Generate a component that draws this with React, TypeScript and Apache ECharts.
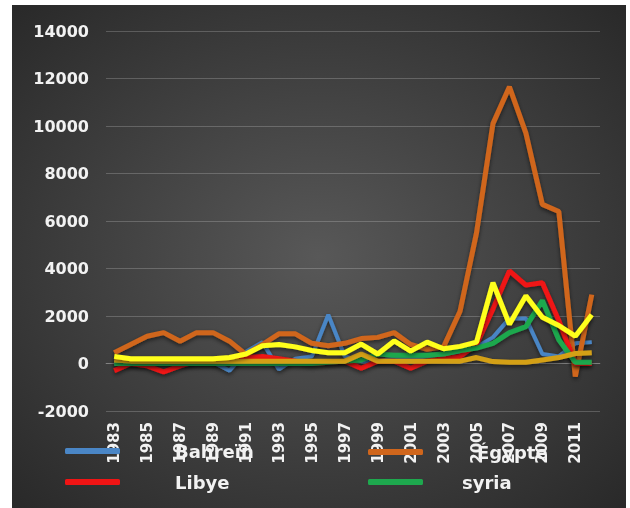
import { useEffect, useRef } from "react";
import * as echarts from "echarts";

// Années (axe des catégories)
const years = [
  "1983", "1984", "1985", "1986", "1987", "1988", "1989", "1990", "1991", "1992",
  "1993", "1994", "1995", "1996", "1997", "1998", "1999", "2000", "2001", "2002",
  "2003", "2004", "2005", "2006", "2007", "2008", "2009", "2010", "2011", "2012",
];

const yTicks = { min: -2000, max: 14000, step: 2000 };

const bahrein = [
  50, 50, 50, 50, 50, 50, 50, -300, 500, 900,
  -250, 200, 300, 2050, 300, 100, 100, 200, 200, 300,
  400, 500, 700, 1100, 1900, 1900, 400, 300, 850, 900,
];

const egypte = [
  450, 800, 1150, 1300, 940, 1300, 1300, 940, 380, 800,
  1250, 1250, 850, 750, 850, 1050, 1100, 1300, 800, 600,
  700, 2200, 5500, 10100, 11650, 9700, 6700, 6400, -550, 2900,
];

const libye = [
  -300, 0, -100, -350, -100, 100, 100, 100, 250, 300,
  200, 100, 0, 50, 100, -200, 100, 100, -200, 100,
  200, 300, 800, 2300, 3900, 3300, 3400, 1800, 0, 0,
];

const syria = [
  0, 0, 0, 0, 0, 0, 0, 0, 0, 0,
  0, 0, 0, 50, 100, 150, 400, 350, 350, 350,
  400, 550, 650, 850, 1300, 1550, 2650, 1000, 50, 50,
];

const serieJaune = [
  300, 200, 200, 200, 200, 200, 200, 250, 400, 750,
  800, 700, 550, 450, 450, 820, 400, 950, 520, 900,
  620, 720, 900, 3400, 1650, 2850, 1950, 1600, 1150, 2050,
];

const serieOr = [
  150, 100, 100, 100, 100, 100, 100, 100, 100, 100,
  100, 100, 100, 100, 100, 400, 100, 100, 100, 100,
  100, 100, 250, 80, 50, 50, 150, 250, 420, 450,
];

const FONT = "DejaVu Sans";
const TEXT = "#f2f2f2";

const lineSeries = (name: string, data: number[], color: string, width: number) => ({
  name,
  type: "line" as const,
  data,
  symbol: "none",
  color,
  lineStyle: {
    color,
    width,
    shadowColor: "rgba(0,0,0,0.55)",
    shadowBlur: 4,
    shadowOffsetY: 2,
  },
  emphasis: { disabled: true },
});

const legendItem = (name: string, left: number, top: number, textPad: number) => ({
  data: [name],
  left,
  top,
  padding: 0,
  itemWidth: 55,
  itemHeight: 6,
  icon: "roundRect",
  selectedMode: false,
  textStyle: {
    color: TEXT,
    fontFamily: FONT,
    fontWeight: "bold" as const,
    fontSize: 18,
    padding: [0, 0, 0, textPad],
  },
});

export default function App() {
  const ref = useRef<HTMLDivElement>(null);

  useEffect(() => {
    if (!ref.current) return;
    const chart = echarts.init(ref.current, undefined, { renderer: "svg" });
    chart.setOption({
      animation: false,
      graphic: [
        {
          type: "rect",
          z: -10,
          silent: true,
          shape: { x: 12, y: 5, width: 614, height: 503 },
          style: {
            fill: new echarts.graphic.RadialGradient(0.5, 0.5, 0.75, [
              { offset: 0, color: "#585858" },
              { offset: 1, color: "#262626" },
            ]),
          },
        },
      ],
      grid: { left: 106, top: 31, width: 494, height: 380, containLabel: false },
      xAxis: {
        type: "category",
        data: years,
        boundaryGap: true,
        axisLine: { show: true, onZero: true, lineStyle: { color: "rgba(255,255,255,0.2)" } },
        axisTick: { show: false },
        axisLabel: {
          rotate: 90,
          interval: 1,
          margin: 11,
          color: TEXT,
          fontFamily: FONT,
          fontWeight: "bold",
          fontSize: 15,
        },
        splitLine: { show: false },
      },
      yAxis: {
        type: "value",
        min: yTicks.min,
        max: yTicks.max,
        interval: yTicks.step,
        axisLine: { show: false },
        axisTick: { show: false },
        axisLabel: {
          margin: 17,
          color: TEXT,
          fontFamily: FONT,
          fontWeight: "bold",
          fontSize: 16,
          formatter: (v: number) => String(v),
        },
        splitLine: { lineStyle: { color: "rgba(255,255,255,0.2)", width: 1 } },
      },
      legend: [
        legendItem("Bahreïn", 65, 442, 50),
        legendItem("Libye", 65, 473, 50),
        legendItem("Égypte", 368, 443, 49),
        legendItem("syria", 368, 473, 34),
      ],
      series: [
        lineSeries("Bahreïn", bahrein, "#4a86c6", 4),
        lineSeries("Égypte", egypte, "#d0661c", 5),
        lineSeries("Libye", libye, "#f01414", 5),
        lineSeries("syria", syria, "#1ea84e", 5),
        lineSeries("Série 6", serieOr, "#d4a017", 5),
        lineSeries("Série 5", serieJaune, "#ffff1a", 5),
      ],
    });
    return () => chart.dispose();
  }, []);

  return (
    <div
      ref={ref}
      style={{ position: "fixed", left: 0, top: 0, width: 630, height: 508 }}
    />
  );
}
